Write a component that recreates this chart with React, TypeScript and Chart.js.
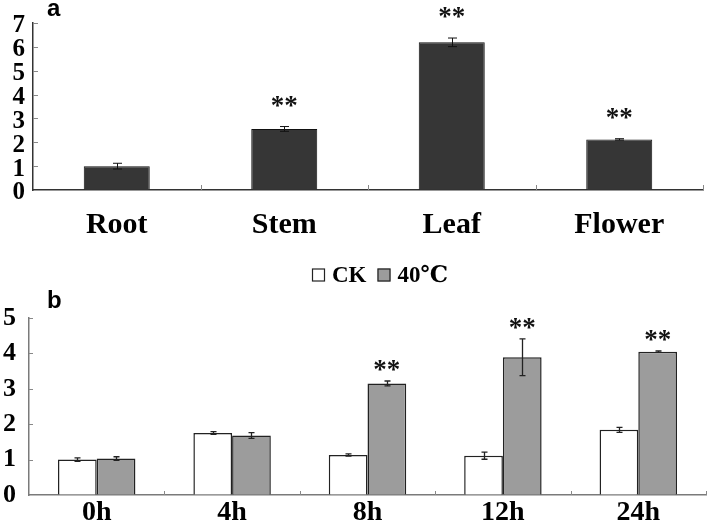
import React, { useEffect, useRef } from "react";
import { Chart, registerables } from "chart.js";
Chart.register(...registerables);

// ---- Panel a data ----
const tissueLabels = ["Root", "Stem", "Leaf", "Flower"];
const tissueValues = [1.0, 2.56, 6.19, 2.12];
const tissueErrors = [0.12, 0.1, 0.18, 0.03];
const tissueSig = ["", "**", "**", "**"];

// ---- Panel b data ----
const timeLabels = ["0h", "4h", "8h", "12h", "24h"];
const seriesNames = ["CK", "40℃"];
const ckValues = [1.0, 1.75, 1.13, 1.11, 1.84];
const ckErrors = [0.05, 0.04, 0.03, 0.1, 0.07];
const heatValues = [1.03, 1.68, 3.15, 3.89, 4.05];
const heatErrors = [0.05, 0.08, 0.07, 0.52, 0.02];
const ckSig = ["", "", "", "", ""];
const heatSig = ["", "", "**", "**", "**"];

const SERIF = "'Liberation Serif', 'DejaVu Serif', 'Noto Sans CJK SC', serif";
const SANS = "'Liberation Sans', Arial, sans-serif";

const errorBarsPlugin = {
  id: "errorBars",
  afterDatasetsDraw(chart: any, _a: any, opts: any) {
    const { ctx } = chart;
    const y = chart.scales.y;
    ctx.save();
    ctx.strokeStyle = opts.color;
    ctx.lineWidth = opts.width;
    chart.data.datasets.forEach((ds: any, i: number) => {
      const errs = opts.errors[i];
      if (!errs) return;
      chart.getDatasetMeta(i).data.forEach((bar: any, j: number) => {
        const v = ds.data[j];
        const e = errs[j];
        const top = y.getPixelForValue(v + e);
        const bot = y.getPixelForValue(v - e);
        const x = Math.round(bar.x) + 0.5;
        const c = opts.cap / 2;
        ctx.beginPath();
        ctx.moveTo(x, top);
        ctx.lineTo(x, bot);
        ctx.moveTo(x - c, top);
        ctx.lineTo(x + c, top);
        ctx.moveTo(x - c, bot);
        ctx.lineTo(x + c, bot);
        ctx.stroke();
      });
    });
    ctx.restore();
  },
};

const sigPlugin = {
  id: "sigMarks",
  afterDatasetsDraw(chart: any, _a: any, opts: any) {
    const { ctx } = chart;
    const y = chart.scales.y;
    ctx.save();
    ctx.fillStyle = "#111";
    ctx.font = opts.font;
    ctx.textAlign = "center";
    ctx.textBaseline = "alphabetic";
    chart.data.datasets.forEach((ds: any, i: number) => {
      const marks = opts.marks[i];
      const errs = opts.errors[i];
      chart.getDatasetMeta(i).data.forEach((bar: any, j: number) => {
        if (!marks[j]) return;
        const top = y.getPixelForValue(ds.data[j] + errs[j]);
        ctx.fillText(marks[j], bar.x, top - opts.offset);
      });
    });
    ctx.restore();
  },
};

const innerTicksPlugin = {
  id: "innerTicks",
  afterDraw(chart: any, _a: any, opts: any) {
    const { ctx, chartArea } = chart;
    const x = chart.scales.x;
    const y = chart.scales.y;
    ctx.save();
    ctx.strokeStyle = opts.color;
    ctx.lineWidth = 1;
    ctx.beginPath();
    y.ticks.forEach((t: any) => {
      if (t.value === 0) return;
      const py = Math.round(y.getPixelForValue(t.value)) + 0.5;
      ctx.moveTo(chartArea.left, py);
      ctx.lineTo(chartArea.left + opts.len, py);
    });
    const n = chart.data.labels.length;
    for (let i = 1; i <= n; i++) {
      const px = Math.round(x.getPixelForValue(i - 0.5)) + 0.5;
      ctx.moveTo(px, chartArea.bottom);
      ctx.lineTo(px, chartArea.bottom - opts.len);
    }
    ctx.stroke();
    ctx.restore();
  },
};

const panelLabelPlugin = {
  id: "panelLabel",
  afterDraw(chart: any, _a: any, opts: any) {
    const { ctx } = chart;
    ctx.save();
    ctx.fillStyle = "#000";
    ctx.font = `bold 24px ${SANS}`;
    ctx.textAlign = "left";
    ctx.textBaseline = "alphabetic";
    ctx.fillText(opts.text, opts.x, opts.y);
    ctx.restore();
  },
};

const boxLegendPlugin = {
  id: "boxLegend",
  afterDraw(chart: any, _a: any, opts: any) {
    if (!opts || !opts.show) return;
    const { ctx } = chart;
    ctx.save();
    ctx.font = `bold 23px ${SERIF}`;
    ctx.textBaseline = "middle";
    ctx.textAlign = "left";
    let x = opts.x;
    const cy = opts.y;
    chart.data.datasets.forEach((ds: any) => {
      ctx.fillStyle = ds.backgroundColor;
      ctx.fillRect(x, cy - 6.5, 13, 13);
      ctx.strokeStyle = "#222";
      ctx.lineWidth = 1.2;
      ctx.strokeRect(x + 0.5, cy - 6, 12, 12);
      x += 13 + 7;
      ctx.fillStyle = "#000";
      ctx.fillText(ds.label, x, cy + 1);
      x += ctx.measureText(ds.label).width + 11;
    });
    ctx.restore();
  },
};

const plugins = [errorBarsPlugin, sigPlugin, innerTicksPlugin, panelLabelPlugin, boxLegendPlugin];

export default function App() {
  const refA = useRef<HTMLCanvasElement>(null);
  const refB = useRef<HTMLCanvasElement>(null);

  useEffect(() => {
    const chartA = new Chart(refA.current as HTMLCanvasElement, {
      type: "bar",
      data: {
        labels: tissueLabels,
        datasets: [
          {
            label: "expression",
            data: tissueValues,
            backgroundColor: "#363636",
            borderColor: "#111",
            borderWidth: 1,
            categoryPercentage: 1,
            barPercentage: 0.394,
          },
        ],
      },
      options: {
        responsive: false,
        animation: false,
        layout: { padding: { top: 14, right: 6, left: 0, bottom: 0 } },
        plugins: {
          legend: { display: false },
          tooltip: { enabled: false },
          errorBars: { errors: [tissueErrors], cap: 9, color: "#111", width: 1 },
          sigMarks: { marks: [tissueSig], errors: [tissueErrors], offset: 13, font: `bold 27px ${SERIF}` },
          innerTicks: { color: "#888", len: 5 },
          panelLabel: { text: "a", x: 47, y: 16 },
          boxLegend: { show: false },
        } as any,
        scales: {
          x: {
            grid: { display: true, drawOnChartArea: false, drawTicks: false },
            border: { display: true, color: "#333", width: 1.5 },
            ticks: { font: { family: SERIF, size: 30, weight: "bold" }, color: "#000", padding: 17 },
            afterFit: (s: any) => {
              s.height = 60;
            },
          },
          y: {
            min: 0,
            max: 7,
            grid: { display: true, drawOnChartArea: false, drawTicks: false },
            border: { display: true, color: "#333", width: 1.5 },
            ticks: {
              stepSize: 1,
              autoSkip: false,
              font: { family: SERIF, size: 25, weight: "bold" },
              color: "#000",
              padding: 8,
              labelOffset: 3,
            },
            afterFit: (s: any) => {
              s.width = 33;
            },
          },
        },
      } as any,
      plugins,
    });

    const chartB = new Chart(refB.current as HTMLCanvasElement, {
      type: "bar",
      data: {
        labels: timeLabels,
        datasets: [
          {
            label: seriesNames[0],
            data: ckValues,
            backgroundColor: "#ffffff",
            borderColor: "#222",
            borderWidth: 1.5,
            categoryPercentage: 0.572,
            barPercentage: 1,
          },
          {
            label: seriesNames[1],
            data: heatValues,
            backgroundColor: "#9c9c9c",
            borderColor: "#222",
            borderWidth: 1.5,
            categoryPercentage: 0.572,
            barPercentage: 1,
          },
        ],
      },
      options: {
        responsive: false,
        animation: false,
        layout: { padding: { top: 68, right: 3, left: 0, bottom: 0 } },
        plugins: {
          legend: { display: false },
          tooltip: { enabled: false },
          errorBars: { errors: [ckErrors, heatErrors], cap: 6, color: "#222", width: 1.3 },
          sigMarks: { marks: [ckSig, heatSig], errors: [ckErrors, heatErrors], offset: 3, font: `bold 27px ${SERIF}` },
          innerTicks: { color: "#888", len: 4 },
          panelLabel: { text: "b", x: 47, y: 58 },
          boxLegend: { show: true, x: 312, y: 25 },
        } as any,
        scales: {
          x: {
            grid: { display: true, drawOnChartArea: false, drawTicks: false },
            border: { display: true, color: "#7a7a7a", width: 1.5 },
            ticks: { font: { family: SERIF, size: 28, weight: "bold" }, color: "#000", padding: 1 },
            afterFit: (s: any) => {
              s.height = 33;
            },
          },
          y: {
            min: 0,
            max: 5,
            grid: { display: true, drawOnChartArea: false, drawTicks: false },
            border: { display: true, color: "#7a7a7a", width: 1.5 },
            ticks: {
              stepSize: 1,
              autoSkip: false,
              font: { family: SERIF, size: 26, weight: "bold" },
              color: "#000",
              padding: 13,
            },
            afterFit: (s: any) => {
              s.width = 29;
            },
          },
        },
      } as any,
      plugins,
    });

    return () => {
      chartA.destroy();
      chartB.destroy();
    };
  }, []);

  return (
    <div style={{ position: "absolute", left: 0, top: 0, width: 709, height: 528, background: "#fff" }}>
      <canvas ref={refA} width={709} height={250} style={{ position: "absolute", left: 0, top: 0 }} />
      <canvas ref={refB} width={709} height={278} style={{ position: "absolute", left: 0, top: 250 }} />
    </div>
  );
}
